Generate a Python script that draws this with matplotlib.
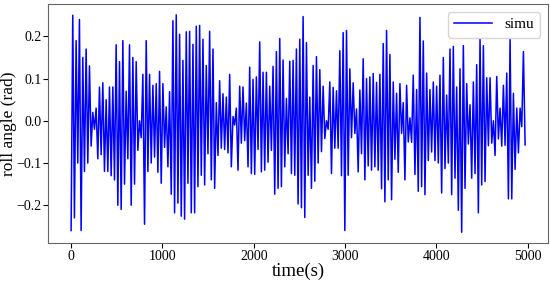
import numpy as np
import matplotlib.pyplot as plt

plt.rcParams['font.family'] = ['Liberation Serif', 'DejaVu Serif']

# roll angle peaks, in time order
roll_part1 = [-0.26, 0.25, -0.23, 0.19, -0.10, 0.24, -0.26, 0.15, -0.12, 0.17,
              -0.10, 0.13, -0.06, 0.02, -0.02, 0.03, -0.09, 0.08, -0.08, 0.09,
              -0.12, 0.05, -0.12, 0.08, -0.13, 0.08, -0.14, 0.18, -0.20, 0.14,
              -0.21, 0.19, -0.15, 0.07, -0.09, 0.18, -0.20, 0.15, -0.15]
roll_part2 = [0.14, -0.07, 0.0, -0.04, 0.11, -0.245, 0.19, -0.12, 0.11, -0.10,
              0.084, -0.086, 0.088, -0.122, 0.117, -0.148, 0.088, -0.063, 0.033, -0.109,
              0.069, -0.174, 0.237, -0.218, 0.251, -0.195, 0.205, -0.226, 0.143, -0.233,
              0.211, -0.148, 0.212, -0.218, 0.181, -0.218, 0.224, -0.156, 0.226, -0.129,
              0.193, -0.152, 0.131, -0.078, 0.212]
roll_part3 = [-0.14, 0.17, -0.16, 0.043, -0.082, 0.095, -0.065, 0.064, -0.068, 0.056,
              -0.076, 0.11, -0.109, 0.01, -0.01, 0.03, -0.117, 0.082, -0.053, 0.08,
              -0.047, 0.042, -0.109, 0.127, -0.125, 0.098, -0.127, 0.104, -0.068, 0.187,
              -0.121, 0.115, -0.117, 0.115, -0.098, 0.082, -0.07, 0.129, -0.174, 0.164,
              -0.16, 0.195, -0.156, 0.144]
roll_part4 = [-0.109, 0.053, -0.078, 0.141, -0.125, 0.143, -0.129, 0.17, -0.197, 0.193,
              -0.206, 0.247, -0.229, 0.185, -0.129, 0.056, -0.16, 0.131, -0.143, 0.152,
              -0.10, 0.121, -0.073, 0.082, -0.042, 0.0, -0.02, 0.092, -0.125, 0.079,
              -0.065, 0.071, -0.065, 0.166, -0.13, 0.209, -0.26, 0.214, -0.129, 0.123,
              -0.04, 0.09, -0.03, 0.028, -0.121, 0.073]
roll_part5 = [-0.078, 0.147, -0.14, 0.10, -0.107, 0.104, -0.117, 0.112, -0.109, 0.091,
              -0.117, 0.11, -0.161, 0.183, -0.192, 0.214, -0.14, 0.157, -0.187, 0.092,
              -0.091, 0.065, -0.122, 0.088, -0.03, 0.043, -0.14, 0.084, -0.05, 0.007,
              -0.051, 0.108, -0.127, 0.074, -0.167, 0.245, -0.156, 0.189, -0.175, 0.113,
              -0.094, 0.074, -0.074, 0.092]
roll_part6 = [-0.094, 0.082, -0.10, 0.108, -0.171, 0.15, -0.113, 0.061, -0.10, 0.17,
              -0.175, 0.176, -0.136, 0.08, -0.212, 0.123, -0.264, 0.178, -0.16, 0.088,
              -0.055, 0.038, -0.136, 0.092, -0.125, 0.133, -0.218, 0.193, -0.152, 0.178,
              -0.144, 0.102, -0.059, 0.102, -0.053, 0.0, -0.082, 0.105, -0.043, 0.03,
              -0.06, 0.084]
roll_tail = [-0.058, 0.113, -0.185, 0.193, -0.185, 0.065, -0.115, 0.03, -0.076, 0.03,
             -0.014, 0.164, -0.057]

roll = np.array(roll_part1 + roll_part2 + roll_part3 + roll_part4
                + roll_part5 + roll_part6 + roll_tail)
t_end = 4970.0  # seconds, last sample
t = np.linspace(0, t_end, len(roll))

fig = plt.figure(figsize=(5.5, 2.84), dpi=100)
ax = fig.add_axes([0.088, 0.144, 0.908, 0.842])
ax.plot(t, roll, color='blue', linewidth=1.1, label='simu')
ax.set_xlabel('time(s)', fontsize=13.5, labelpad=0)
ax.set_ylabel('roll angle (rad)', fontsize=12.5)
ax.yaxis.set_label_coords(-0.062, 0.5)
ax.set_xticks([0, 1000, 2000, 3000, 4000, 5000])
ax.set_yticks([-0.2, -0.1, 0.0, 0.1, 0.2])
ax.tick_params(labelsize=10, pad=1.5)
for s in ax.spines.values():
    s.set_color('#666666')
ax.legend(loc='upper right', fontsize=11, handlelength=2.5)
fig.savefig('out.png')
